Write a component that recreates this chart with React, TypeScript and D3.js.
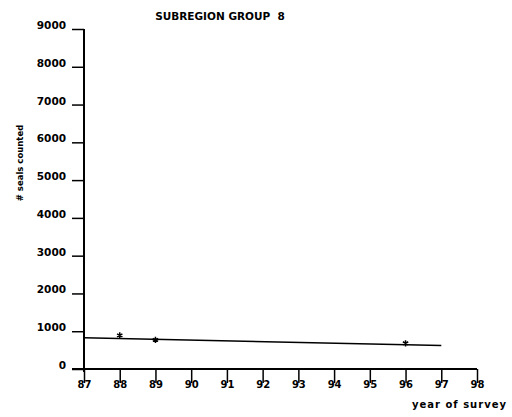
import { useRef, useEffect } from "react";
import * as d3 from "d3";

const surveyYears = [88, 89, 96];
const sealCounts = [890, 770, 680];
const trendYears = [87, 97];
const trendCounts = [830, 620];
const xTicks = [87, 88, 89, 90, 91, 92, 93, 94, 95, 96, 97, 98];
const yTicks = [0, 1000, 2000, 3000, 4000, 5000, 6000, 7000, 8000, 9000];

const W = 512;
const H = 417;
const FONT = "'DejaVu Sans', sans-serif";

export default function App() {
  const svgRef = useRef<SVGSVGElement>(null);

  useEffect(() => {
    const svg = d3.select(svgRef.current);
    svg.selectAll("*").remove();

    const x = d3.scaleLinear().domain([87, 98]).range([84, 477]);
    const y = d3.scaleLinear().domain([0, 9000]).range([369, 29]);

    svg.append("rect").attr("width", W).attr("height", H).attr("fill", "#fff");

    // title
    svg
      .append("text")
      .attr("x", 220)
      .attr("y", 20)
      .attr("text-anchor", "middle")
      .attr("font-family", FONT)
      .attr("font-size", 10.5)
      .attr("font-weight", "bold")
      .style("white-space", "pre")
      .text("SUBREGION GROUP  8");

    // y axis
    const yAxis = d3
      .axisLeft(y)
      .tickValues(yTicks)
      .tickSize(12)
      .tickPadding(6)
      .tickFormat((d) => String(d));
    const gy = svg.append("g").attr("transform", `translate(${x(87)},0)`).call(yAxis);
    gy.select(".domain").attr("stroke-width", 2).attr("d", `M0,${y(9000)}V${y(0) + 3}`);
    gy.selectAll(".tick line").attr("stroke-width", 1.5);
    gy.selectAll(".tick text")
      .attr("font-family", FONT)
      .attr("font-size", 10.5)
      .attr("font-weight", "bold")
      .attr("dy", "-0.05em");

    // x axis
    const xAxis = d3
      .axisBottom(x)
      .tickValues(xTicks)
      .tickSize(14)
      .tickPadding(-2)
      .tickFormat((d) => String(d));
    const gx = svg.append("g").attr("transform", `translate(0,${y(0)})`).call(xAxis);
    gx.select(".domain").attr("stroke-width", 2).attr("d", `M${x(87) - 12},0H${x(98)}`);
    gx.selectAll(".tick line").attr("stroke-width", 1.5);
    gx.selectAll(".tick text")
      .attr("font-family", FONT)
      .attr("font-size", 10)
      .attr("font-weight", "bold");

    // y label
    svg
      .append("text")
      .attr("transform", `translate(23,163) rotate(-90)`)
      .attr("text-anchor", "middle")
      .attr("font-family", FONT)
      .attr("font-size", 8.5)
      .attr("font-weight", "bold")
      .text("# seals counted");

    // x label
    svg
      .append("text")
      .attr("x", 507)
      .attr("y", 408)
      .attr("text-anchor", "end")
      .attr("font-family", FONT)
      .attr("font-size", 10)
      .attr("font-weight", "bold")
      .attr("letter-spacing", 1)
      .text("year of survey");

    // trend line
    const trend = d3
      .line<number>()
      .x((d) => x(d))
      .y((_, i) => y(trendCounts[i]));
    svg
      .append("path")
      .datum(trendYears)
      .attr("d", trend)
      .attr("fill", "none")
      .attr("stroke", "#000")
      .attr("stroke-width", 1.5);

    // observed counts
    svg
      .selectAll(".pt")
      .data(surveyYears)
      .join("path")
      .attr("class", "pt")
      .attr("d", d3.symbol(d3.symbolAsterisk, 26))
      .attr("transform", (d, i) => `translate(${x(d)},${y(sealCounts[i])})`)
      .attr("fill", "none")
      .attr("stroke", "#000")
      .attr("stroke-width", 1.5);
  }, []);

  return (
    <svg
      ref={svgRef}
      width={W}
      height={H}
      style={{ display: "block", position: "absolute", left: 0, top: 0 }}
    />
  );
}
